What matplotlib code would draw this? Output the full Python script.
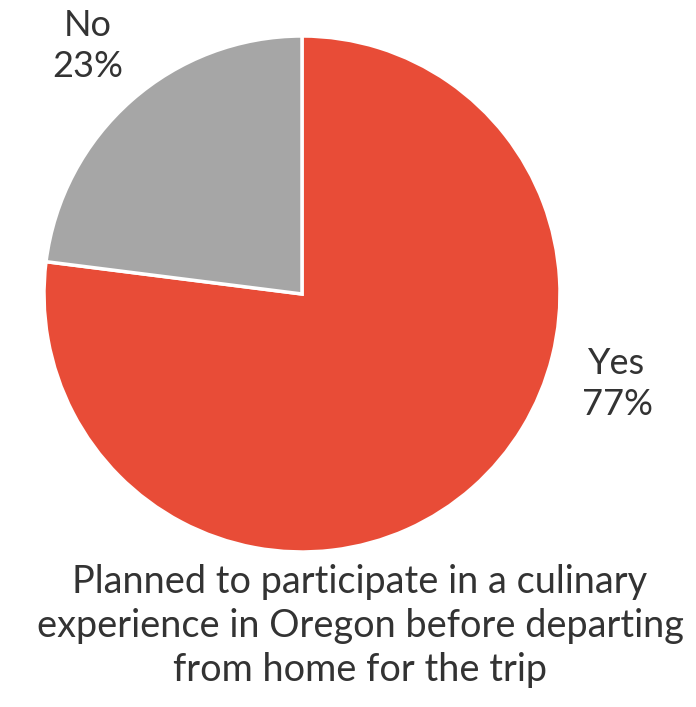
import matplotlib
matplotlib.use('Agg')
import matplotlib.pyplot as plt

labels = ['Yes', 'No']
values = [77, 23]
colors = ['#E84C37', '#A6A6A6']
title = 'Planned to participate in a culinary\nexperience in Oregon before departing\nfrom home for the trip'

plt.rcParams['font.family'] = ['Lato', 'DejaVu Sans']
W, H = 696, 707
fig = plt.figure(figsize=(W / 100, H / 100), dpi=100)

cx, cy, r = 302, 294, 258
ax = fig.add_axes([(cx - r) / W, (H - cy - r) / H, 2 * r / W, 2 * r / H])
ax.pie(values, colors=colors, startangle=90, counterclock=False,
       wedgeprops=dict(edgecolor='white', linewidth=2.5))
ax.set_xlim(-1, 1)
ax.set_ylim(-1, 1)
ax.set_aspect('equal')
ax.axis('off')

txt = '#333333'
# label positions (pixels)
pos = {'Yes': (617, 384), 'No': (88, 46)}
for lab, v in zip(labels, values):
    px, py = pos[lab]
    fig.text(px / W, 1 - py / H, f'{lab}\n{v}%', ha='center', va='center',
             fontsize=26, color=txt, linespacing=1.3)

fig.text(360 / W, 1 - 626 / H, title, ha='center', va='center',
         fontsize=27.3, color=txt, linespacing=1.26)

fig.savefig('out.png', dpi=100)
